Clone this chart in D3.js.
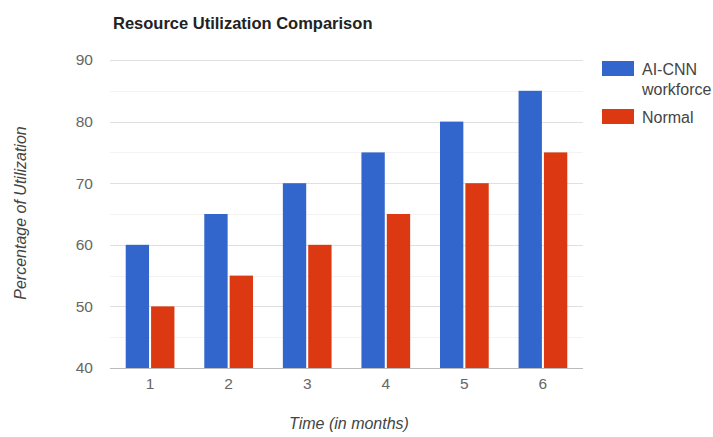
<!DOCTYPE html>
<html><head><meta charset="utf-8">
<script src="https://cdn.jsdelivr.net/npm/d3@7"></script>
<style>body{margin:0;background:#fff;} text{font-family:Arial,"Liberation Sans",sans-serif;}</style>
</head><body><svg id="c" width="713" height="437"></svg>
<script>
const months = ["1","2","3","4","5","6"];
const aiCnn = [60,65,70,75,80,85];
const normal = [50,55,60,65,70,75];
const seriesNames = ["AI-CNN workforce","Normal"];
const colors = ["#3366cc","#dc3912"];
const yTicks = [40,50,60,70,80,90];
const yMinor = [45,55,65,75,85];

const svg = d3.select("#c");
const m = {l:110, r:583, t:60, b:368};
const x = d3.scaleBand().domain(months).range([m.l,m.r]).paddingInner(0.38).paddingOuter(0.2);
const xs = d3.scaleBand().domain([0,1]).range([0,x.bandwidth()]).paddingInner(0.08);
const y = d3.scaleLinear().domain([40,90]).range([m.b,m.t]);

svg.append("g").selectAll("line").data(yMinor).join("line")
  .attr("x1",m.l).attr("x2",m.r).attr("y1",d=>Math.round(y(d))+0.5).attr("y2",d=>Math.round(y(d))+0.5)
  .attr("stroke","#f3f3f3").attr("stroke-width",1);
svg.append("g").selectAll("line").data(yTicks).join("line")
  .attr("x1",m.l).attr("x2",m.r).attr("y1",d=>Math.round(y(d))+0.5).attr("y2",d=>Math.round(y(d))+0.5)
  .attr("stroke",d=>d===40?"#bbbbbb":"#e0e0e0").attr("stroke-width",1);

const yAxis = d3.axisLeft(y).tickValues(yTicks).tickSize(0).tickPadding(17);
const ga = svg.append("g").attr("transform",`translate(${m.l},0)`).call(yAxis);
ga.select(".domain").remove();
ga.selectAll("text").attr("font-size",15.5).attr("fill","#666");

const xAxis = d3.axisBottom(x).tickSize(0).tickPadding(10);
const gx = svg.append("g").attr("transform",`translate(0,${m.b})`).call(xAxis);
gx.select(".domain").remove();
gx.selectAll("text").attr("font-size",15.5).attr("fill","#666");

const data = months.map((mo,i)=>({mo, vals:[aiCnn[i],normal[i]]}));
const g = svg.append("g").selectAll("g").data(data).join("g")
  .attr("transform",d=>`translate(${x(d.mo)},0)`);
g.selectAll("rect").data(d=>d.vals.map((v,k)=>({v,k}))).join("rect")
  .attr("x",d=>xs(d.k)).attr("width",xs.bandwidth())
  .attr("y",d=>y(d.v)).attr("height",d=>y(40)-y(d.v))
  .attr("fill",d=>colors[d.k]);

svg.append("text").attr("x",113).attr("y",29).attr("font-size",16.5).attr("font-weight","bold")
  .attr("fill","#222").text("Resource Utilization Comparison");

svg.append("text").attr("x",349).attr("y",429).attr("text-anchor","middle")
  .attr("font-size",16).attr("font-style","italic").attr("fill","#444").text("Time (in months)");
svg.append("text").attr("transform","translate(26,213) rotate(-90)").attr("text-anchor","middle")
  .attr("font-size",16).attr("font-style","italic").attr("fill","#444").text("Percentage of Utilization");

// legend
const leg = svg.append("g");
leg.append("rect").attr("x",602).attr("y",61).attr("width",32).attr("height",15).attr("fill",colors[0]);
leg.append("text").attr("x",642).attr("y",75).attr("font-size",16).attr("fill","#444").text("AI-CNN");
leg.append("text").attr("x",642).attr("y",95).attr("font-size",16).attr("fill","#444").text("workforce");
leg.append("rect").attr("x",602).attr("y",109).attr("width",32).attr("height",15).attr("fill",colors[1]);
leg.append("text").attr("x",642).attr("y",123).attr("font-size",16).attr("fill","#444").text(seriesNames[1]);
</script></body></html>
